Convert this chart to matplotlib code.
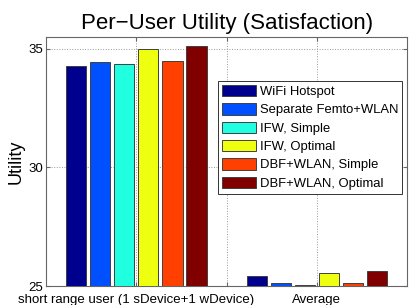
import matplotlib
matplotlib.use("Agg")
import matplotlib.pyplot as plt
import numpy as np

groups = ["short range user (1 sDevice+1 wDevice)", "Average"]
schemes = [
    "WiFi Hotspot",
    "Separate Femto+WLAN",
    "IFW, Simple",
    "IFW, Optimal",
    "DBF+WLAN, Simple",
    "DBF+WLAN, Optimal",
]
short_range = [34.28, 34.44, 34.35, 34.99, 34.48, 35.13]
average = [25.43, 25.11, 25.04, 25.56, 25.13, 25.63]
colors = ["#00008f", "#0050ff", "#20ffdf", "#efff10", "#ff4000", "#800000"]

plt.rcParams["font.family"] = ["Liberation Sans", "DejaVu Sans"]

fig = plt.figure(figsize=(4.15, 3.05), dpi=100)
ax = fig.add_axes([0.111, 0.062, 0.870, 0.817])

x = np.array([1, 2])
n = len(schemes)
step = 0.8 / n
width = step * 0.84
values = np.array([short_range, average])
for i, (name, col) in enumerate(zip(schemes, colors)):
    ax.bar(x + (i - (n - 1) / 2) * step, values[:, i] - 25, width, bottom=25,
           color=col, edgecolor="0.25", linewidth=0.7, label=name, zorder=3)

ax.set_xlim(0.5, 2.5)
ax.set_ylim(25, 35.5)
ax.set_yticks([25, 30, 35])
# matlab put a tick (and grid line) halfway between the groups, unlabelled
ax.set_xticks([1, 1.5, 2])
ax.set_xticklabels([groups[0], "", groups[1]])
ax.tick_params(direction="in", top=True, right=True, labelsize=9.5,
               length=3, color="0.4")
ax.tick_params(axis="x", pad=5.5)
ax.tick_params(axis="y", pad=2)
ax.grid(True, color="0.6", linestyle=":", linewidth=0.7, zorder=1)
ax.set_axisbelow(True)

for s in ax.spines.values():
    s.set_color("0.4")

ax.set_ylabel("Utility", fontsize=13, labelpad=3)
ax.set_title("Per\u2212User Utility (Satisfaction)", fontsize=16, pad=6)

leg = ax.legend(loc="upper right", bbox_to_anchor=(0.986, 0.823), fontsize=9.4,
                fancybox=False, framealpha=1, edgecolor="0.2",
                handlelength=2.6, handleheight=0.95, handletextpad=0.3,
                labelspacing=0.4, borderpad=0.3, borderaxespad=0)
leg.get_frame().set_linewidth(0.7)

fig.savefig("out.png", dpi=100)
